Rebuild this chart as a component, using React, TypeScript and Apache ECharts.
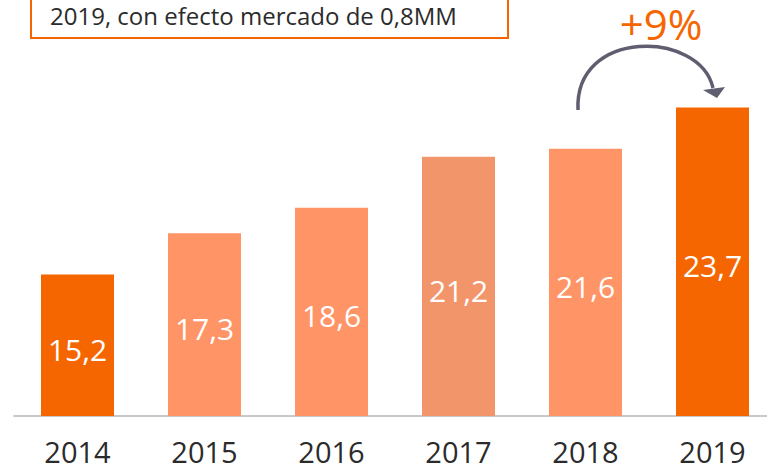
import React, { useEffect, useRef } from "react";
import * as echarts from "echarts";

const years = ["2014", "2015", "2016", "2017", "2018", "2019"];
const values = [15.2, 17.3, 18.6, 21.2, 21.6, 23.7];
const barColors = ["#F56600", "#FF9466", "#FF9466", "#F3956A", "#FF9466", "#F56600"];
const noteText = "2019, con efecto mercado de 0,8MM";
const growthText = "+9%";

export default function App() {
  const ref = useRef<HTMLDivElement>(null);
  useEffect(() => {
    if (!ref.current) return;
    const chart = echarts.init(ref.current, undefined, { renderer: "svg" });
    const font = "'Open Sans', sans-serif";
    chart.setOption({
      animation: false,
      backgroundColor: "#ffffff",
      grid: { left: 14, right: 0, top: 82, bottom: 53, containLabel: false },
      xAxis: {
        type: "category",
        data: years,
        axisLine: { show: true, lineStyle: { color: "#c8c8c8", width: 2 } },
        axisTick: { show: false },
        axisLabel: { color: "#2b2b2b", fontSize: 29, fontFamily: font, margin: 21 },
      },
      yAxis: {
        type: "value",
        min: 8,
        max: 25,
        show: false,
        splitLine: { show: false },
      },
      series: [
        {
          type: "bar",
          barWidth: 73,
          data: values.map((v, i) => ({ value: v, itemStyle: { color: barColors[i] } })),
          label: {
            show: true,
            position: "inside",
            offset: [0, 4],
            color: "#ffffff",
            fontSize: 30,
            fontFamily: font,
            formatter: (p: any) => String(p.value).replace(".", ","),
          },
        },
      ],
      graphic: [
        {
          type: "rect",
          shape: { x: 31, y: -10, width: 477, height: 48 },
          style: { fill: "none", stroke: "#F56600", lineWidth: 2 },
        },
        {
          type: "text",
          x: 50,
          y: 15,
          style: {
            text: noteText,
            fill: "#2b2b2b",
            fontSize: 24,
            fontFamily: font,
            verticalAlign: "middle",
            align: "left",
          },
        },
        {
          type: "text",
          x: 661,
          y: 23,
          style: {
            text: growthText,
            fill: "#F56600",
            fontSize: 42,
            fontFamily: font,
            verticalAlign: "middle",
            align: "center",
          },
        },
        {
          type: "bezierCurve",
          shape: { x1: 578, y1: 110, cpx1: 574, cpy1: 28, cpx2: 700, cpy2: 30, x2: 713, y2: 88 },
          style: { stroke: "#5e5e70", lineWidth: 3.5, fill: "none" },
        },
        {
          type: "polygon",
          shape: { points: [[703, 90], [725, 87], [717, 98]] },
          style: { fill: "#5e5e70" },
        },
      ],
    });
    return () => chart.dispose();
  }, []);
  return (
    <div
      style={{ position: "absolute", left: 0, top: 0, width: 767, height: 469, overflow: "hidden" }}
    >
      <div ref={ref} style={{ width: 776, height: 469 }} />
    </div>
  );
}
